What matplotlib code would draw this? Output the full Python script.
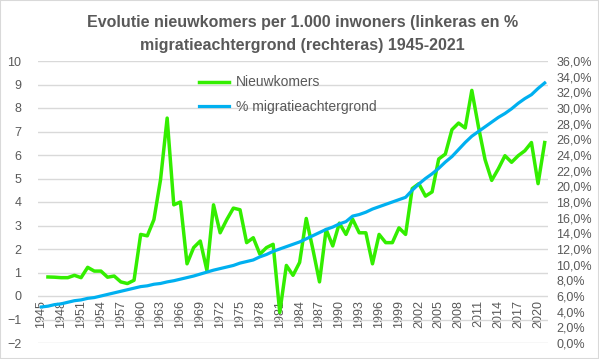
import matplotlib
matplotlib.use("Agg")
import matplotlib.pyplot as plt
from matplotlib.ticker import FuncFormatter, MultipleLocator
from matplotlib.patches import Rectangle

plt.rcParams["font.family"] = ["Liberation Sans", "DejaVu Sans"]

# years on the category axis
years = list(range(1945, 2022))

# newcomers per 1,000 inhabitants (left axis), series starts in 1946
newcomers = [
    None, 0.81, 0.80, 0.78, 0.78, 0.88, 0.78, 1.22, 1.06, 1.06,   # 1945-1954
    0.80, 0.85, 0.60, 0.53, 0.67, 2.62, 2.56, 3.25, 4.95, 7.57,   # 1955-1964
    3.88, 4.00, 1.37, 2.06, 2.34, 1.09, 3.88, 2.69, 3.25, 3.74,   # 1965-1974
    3.67, 2.27, 2.48, 1.78, 2.06, 2.20, -0.70, 1.30, 0.88, 1.43,  # 1975-1984
    3.30, 1.99, 0.60, 2.83, 2.13, 3.10, 2.62, 3.27, 2.69, 2.69,   # 1985-1994
    1.37, 2.62, 2.27, 2.27, 2.90, 2.62, 4.57, 4.78, 4.25, 4.43,   # 1995-2004
    5.83, 6.04, 7.08, 7.36, 7.15, 8.75, 7.20, 5.80, 4.92, 5.41,   # 2005-2014
    5.97, 5.69, 5.97, 6.18, 6.53, 4.78, 6.53,                     # 2015-2021
]

# share with migration background in % (right axis)
migration_pct = [
    4.6, 4.7, 4.9, 5.0, 5.2, 5.4, 5.5, 5.7, 5.8, 6.0,            # 1945-1954
    6.2, 6.4, 6.6, 6.8, 7.0, 7.2, 7.3, 7.5, 7.6, 7.8,            # 1955-1964
    7.95, 8.15, 8.35, 8.55, 8.8, 9.05, 9.3, 9.5, 9.7, 9.9,       # 1965-1974
    10.2, 10.4, 10.6, 11.0, 11.3, 11.7, 12.0, 12.3, 12.6, 12.9,  # 1975-1984
    13.3, 13.7, 14.1, 14.5, 14.8, 15.2, 15.5, 16.2, 16.4, 16.7,  # 1985-1994
    17.1, 17.4, 17.7, 18.0, 18.3, 18.6, 19.5, 20.3, 21.0, 21.6,  # 1995-2004
    22.3, 23.1, 23.8, 24.7, 25.6, 26.4, 27.0, 27.6, 28.2, 28.8,  # 2005-2014
    29.3, 29.9, 30.6, 31.2, 31.7, 32.5, 33.2,                    # 2015-2021
]

title = "Evolutie nieuwkomers per 1.000 inwoners (linkeras en %\nmigratieachtergrond (rechteras) 1945-2021"

GREEN = "#33EE00"
BLUE = "#00B0F0"
TXT = "#595959"
GRID = "#D9D9D9"

fig = plt.figure(figsize=(5.99, 3.59), dpi=100)
ax = fig.add_axes([38 / 599, 1 - 343 / 359, 510 / 599, 282 / 359])
ax2 = ax.twinx()

x = list(range(len(years)))
ax.plot(x, [float("nan") if v is None else v for v in newcomers],
        color=GREEN, lw=2.5, label="Nieuwkomers", solid_joinstyle="round")
ax2.plot(x, migration_pct, color=BLUE, lw=2.3, label="% migratieachtergrond",
         solid_joinstyle="round")

ax.set_xlim(-0.5, len(years) - 0.5)
ax.set_ylim(-2, 10)
ax2.set_ylim(0, 36)
ax.yaxis.set_major_locator(MultipleLocator(1))
ax2.yaxis.set_major_locator(MultipleLocator(2))
ax2.yaxis.set_major_formatter(FuncFormatter(lambda v, p: f"{v:.1f}%".replace(".", ",")))

ax.grid(axis="y", color=GRID, lw=1)
ax.set_axisbelow(True)

for a in (ax, ax2):
    for s in a.spines.values():
        s.set_visible(False)
    a.tick_params(length=0, colors=TXT, labelsize=9)

# category labels sit right under the zero line
ax.spines["bottom"].set_position(("data", 0))
ax.set_xticks(x[::3])
ax.set_xticklabels([str(y) for y in years[::3]], rotation=90)
ax.tick_params(axis="x", pad=3)
ax.tick_params(axis="y", pad=12)
ax2.tick_params(axis="y", pad=6)

h1, l1 = ax.get_legend_handles_labels()
h2, l2 = ax2.get_legend_handles_labels()
leg = ax.legend(h1 + h2, l1 + l2, loc="upper left", bbox_to_anchor=(186 / 599, 1 - 63 / 359),
                bbox_transform=fig.transFigure, frameon=False, fontsize=10,
                handlelength=2.2, labelspacing=0.75, handletextpad=0.5)
for t in leg.get_texts():
    t.set_color(TXT)

fig.text(0.505, 1 - 34 / 359, title, ha="center", va="center", fontsize=11.5,
         fontweight="bold", color=TXT, linespacing=1.6)

fig.patches.append(Rectangle((0, 0), 1, 1, transform=fig.transFigure, fill=False,
                             edgecolor=GRID, lw=1.5))

fig.savefig("out.png", dpi=100)
